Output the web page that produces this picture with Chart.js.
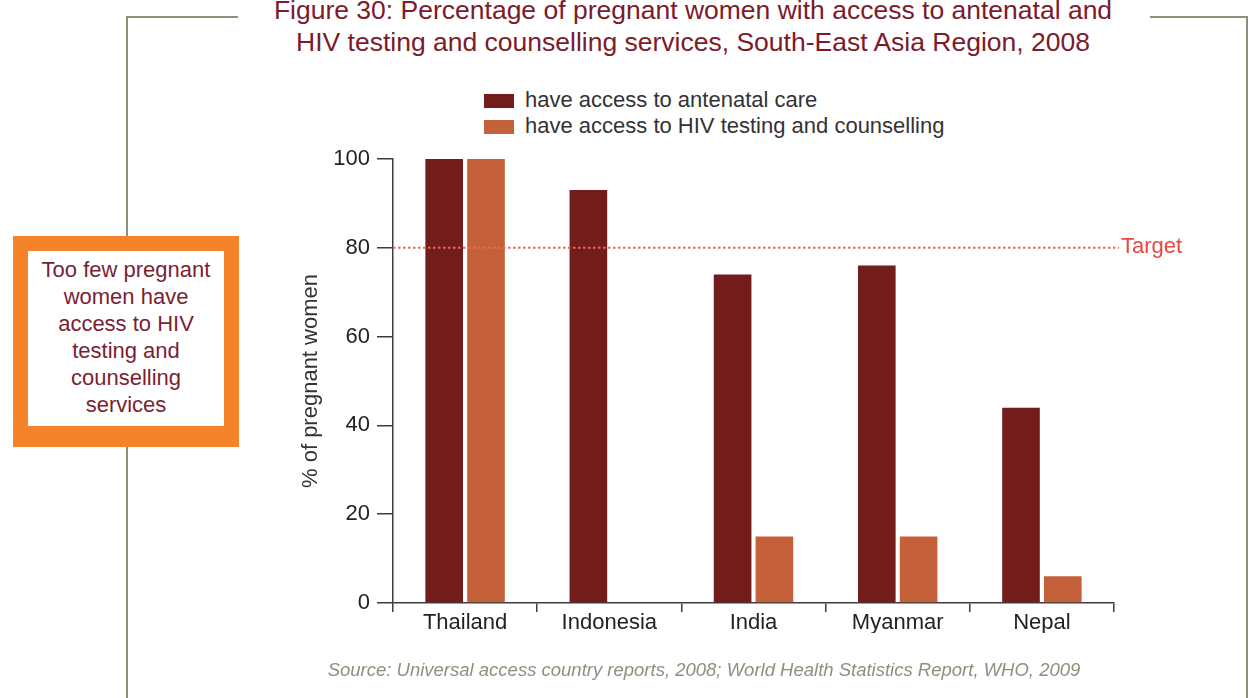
<!DOCTYPE html>
<html lang="en">
<head>
    <meta charset="UTF-8">
    <title>Figure 30: Pregnant women with access to antenatal and HIV testing services</title>
    <script src="https://cdn.jsdelivr.net/npm/chart.js@4.4.0/dist/chart.umd.min.js"></script>
    <style>
        body {
            margin: 0;
            background: #fff;
            font-family: "Liberation Sans", Arial, sans-serif;
        }
        .page {
            position: relative;
            width: 1253px;
            height: 698px;
            overflow: hidden;
        }
        .frame {
            position: absolute;
            background: #8f8f7e;
        }
        .title {
            position: absolute;
            left: 93px;
            width: 1200px;
            top: -6px;
            text-align: center;
            color: #7b1b2b;
            font-size: 26.5px;
            line-height: 32px;
        }
        .legend {
            position: absolute;
            left: 484px;
            top: 87px;
            font-size: 22px;
            color: #333;
        }
        .legend-item {
            height: 26px;
            line-height: 26px;
            white-space: nowrap;
        }
        .legend-item span.box {
            display: inline-block;
            width: 30px;
            height: 14px;
            margin-right: 11px;
            vertical-align: -1px;
        }
        .callout {
            position: absolute;
            left: 13px;
            top: 236px;
            width: 196px;
            height: 170px;
            border: 15px solid #f5832c;
            border-bottom-width: 21px;
            background: #fff;
            color: #7a1f33;
            font-size: 22px;
            line-height: 27px;
            text-align: center;
            padding-top: 5px;
        }
        .source {
            position: absolute;
            left: 104px;
            width: 1200px;
            top: 659px;
            text-align: center;
            font-style: italic;
            font-size: 18.5px;
            color: #8f8f7e;
        }
        .chart-box {
            position: absolute;
            left: 0;
            top: 0;
            width: 1253px;
            height: 698px;
        }
    </style>
</head>
<body>
<div class="page">
    <!-- grey frame round the figure -->
    <div class="frame" style="left:126px; top:16px; width:2px; height:682px;"></div>
    <div class="frame" style="left:126px; top:16px; width:112px; height:2px;"></div>
    <div class="frame" style="left:1150px; top:16px; width:98px; height:2px;"></div>
    <div class="frame" style="left:1246px; top:16px; width:2px; height:682px;"></div>

    <div class="title">Figure 30: Percentage of pregnant women with access to antenatal and<br>HIV testing and counselling services, South-East Asia Region, 2008</div>

    <div class="legend" id="legend"></div>

    <div class="chart-box">
        <canvas id="accessChart"></canvas>
    </div>

    <div class="callout">Too few pregnant<br>women have<br>access to HIV<br>testing and<br>counselling<br>services</div>

    <div class="source">Source: Universal access country reports, 2008; World Health Statistics Report, WHO, 2009</div>
</div>

<script>
    // values
    const countries = ['Thailand', 'Indonesia', 'India', 'Myanmar', 'Nepal'];
    const antenatalCare = [100, 93, 74, 76, 44];
    const hivTesting = [100, null, 15, 15, 6];
    const seriesNames = ['have access to antenatal care', 'have access to HIV testing and counselling'];
    const seriesColors = ['#721c1b', '#c4613a'];
    const yTicks = [0, 20, 40, 60, 80, 100];
    const targetValue = 80;
    const targetLabel = 'Target';

    // legend built from the series names
    const legendEl = document.getElementById('legend');
    seriesNames.forEach((name, i) => {
        const item = document.createElement('div');
        item.className = 'legend-item';
        item.innerHTML = '<span class="box" style="background:' + seriesColors[i] + '"></span>' + name;
        legendEl.appendChild(item);
    });

    const axisColor = '#3d3d3d';
    const fontFamily = '"Liberation Sans", Arial, sans-serif';

    // dotted target line with its label
    const targetPlugin = {
        id: 'targetLine',
        afterDatasetsDraw(chart) {
            const ctx = chart.ctx;
            const y = chart.scales.y.getPixelForValue(targetValue);
            const area = chart.chartArea;
            ctx.save();
            ctx.strokeStyle = '#e9675b';
            ctx.lineWidth = 2;
            ctx.setLineDash([2.5, 2.5]);
            ctx.beginPath();
            ctx.moveTo(area.left, y);
            ctx.lineTo(area.right + 5, y);
            ctx.stroke();
            ctx.setLineDash([]);
            ctx.fillStyle = '#e8473d';
            ctx.font = '22px ' + fontFamily;
            ctx.textBaseline = 'middle';
            ctx.fillText(targetLabel, area.right + 7, y - 1);
            ctx.restore();
        }
    };

    new Chart(document.getElementById('accessChart'), {
        type: 'bar',
        data: {
            labels: countries,
            datasets: [
                {
                    label: seriesNames[0],
                    data: antenatalCare,
                    backgroundColor: seriesColors[0],
                    categoryPercentage: 0.58,
                    barPercentage: 0.9
                },
                {
                    label: seriesNames[1],
                    data: hivTesting,
                    backgroundColor: seriesColors[1],
                    categoryPercentage: 0.58,
                    barPercentage: 0.9
                }
            ]
        },
        options: {
            responsive: true,
            maintainAspectRatio: false,
            animation: false,
            layout: {
                padding: { left: 294, right: 139, top: 159, bottom: 65 }
            },
            plugins: {
                legend: { display: false },
                tooltip: { enabled: false }
            },
            scales: {
                x: {
                    afterFit: (s) => { s.height = 30; },
                    border: { color: axisColor, width: 1.5 },
                    grid: {
                        offset: true,
                        drawOnChartArea: false,
                        drawTicks: true,
                        tickLength: 9,
                        color: axisColor,
                        lineWidth: 1.5
                    },
                    ticks: {
                        color: '#222',
                        padding: 0,
                        font: { family: fontFamily, size: 22, lineHeight: 1 }
                    }
                },
                y: {
                    min: 0,
                    max: 100,
                    afterFit: (s) => { s.width = 99; },
                    afterBuildTicks: (s) => { s.ticks = yTicks.map(v => ({ value: v })); },
                    border: { color: axisColor, width: 1.5 },
                    grid: {
                        drawOnChartArea: false,
                        drawTicks: true,
                        tickLength: 16,
                        color: axisColor,
                        lineWidth: 1.5
                    },
                    ticks: {
                        color: '#222',
                        padding: 7,
                        font: { family: fontFamily, size: 22 }
                    },
                    title: {
                        display: true,
                        text: '% of pregnant women',
                        color: '#333',
                        font: { family: fontFamily, size: 22 }
                    }
                }
            }
        },
        plugins: [targetPlugin]
    });
</script>
</body>
</html>
